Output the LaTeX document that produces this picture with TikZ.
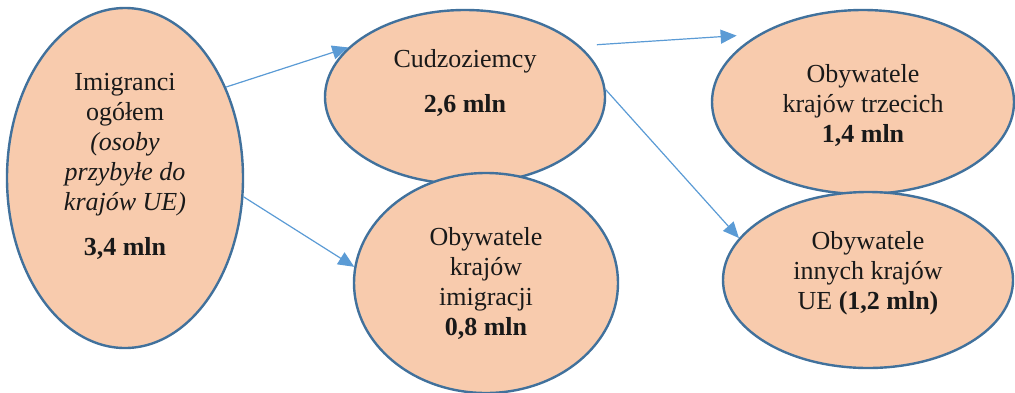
\documentclass[tikz,border=0pt]{standalone}
\usepackage{fontspec}
\setmainfont{Liberation Serif}
\usetikzlibrary{positioning,shapes.geometric,arrows.meta}
\definecolor{groupfill}{HTML}{F8CBAD}
\definecolor{groupline}{HTML}{41719C}
\definecolor{linkblue}{HTML}{5B9BD5}

\begin{document}
\begin{tikzpicture}[
    x=0.5pt, y=-0.5pt,
    group/.style={ellipse, draw=groupline, fill=groupfill, line width=1.2pt, inner sep=0pt},
    grouptext/.style={align=center, inner sep=0pt, text=black!90, font=\fontsize{13}{15}\selectfont},
    link/.style={draw=linkblue, line width=0.6pt, -{Triangle[length=8pt, width=7pt]}}
]
    \useasboundingbox (0,0) rectangle (1015,392);

    % left: all immigrants
    \node[group, minimum width=118pt, minimum height=170pt] (all) at (125,178) {};
    \node[grouptext] (allt) at ([yshift=6pt]all.center) {
        Imigranci \\ ogółem \\ \textit{(osoby} \\ \textit{przybyłe do} \\ \textit{krajów UE)} \\[7.5pt]
        \textbf{3,4 mln}
    };

    % middle
    \node[group, minimum width=140pt, minimum height=87pt] (foreign) at (465,97) {};
    \node[grouptext] (foreignt) at ([yshift=7pt]foreign.center) {
        Cudzoziemcy \\[7.5pt] \textbf{2,6 mln}
    };
    \node[group, minimum width=132pt, minimum height=110pt] (native) at (486,283) {};
    \node[grouptext] (nativet) at (native.center) {
        Obywatele \\ krajów \\ imigracji \\ \textbf{0,8 mln}
    };

    % right
    \node[group, minimum width=151pt, minimum height=92pt] (third) at (863,102) {};
    \node[grouptext] (thirdt) at ([yshift=-1.5pt]third.center) {
        Obywatele \\ krajów trzecich \\ \textbf{1,4 mln}
    };
    \node[group, minimum width=145pt, minimum height=88pt] (othereu) at (868,280) {};
    \node[grouptext] (othereut) at ([yshift=3.5pt]othereu.center) {
        Obywatele \\ innych krajów \\ UE \textbf{(1,2 mln)}
    };

    \draw[link] (all.42) -- (foreign.157);
    \draw[link] (all.-9) -- (native.173);
    \draw[link, shorten <=8.5pt, shorten >=11pt] (foreign.24) -- (third.147);
    \draw[link] (foreign.3) -- (othereu.162);
\end{tikzpicture}
\end{document}
